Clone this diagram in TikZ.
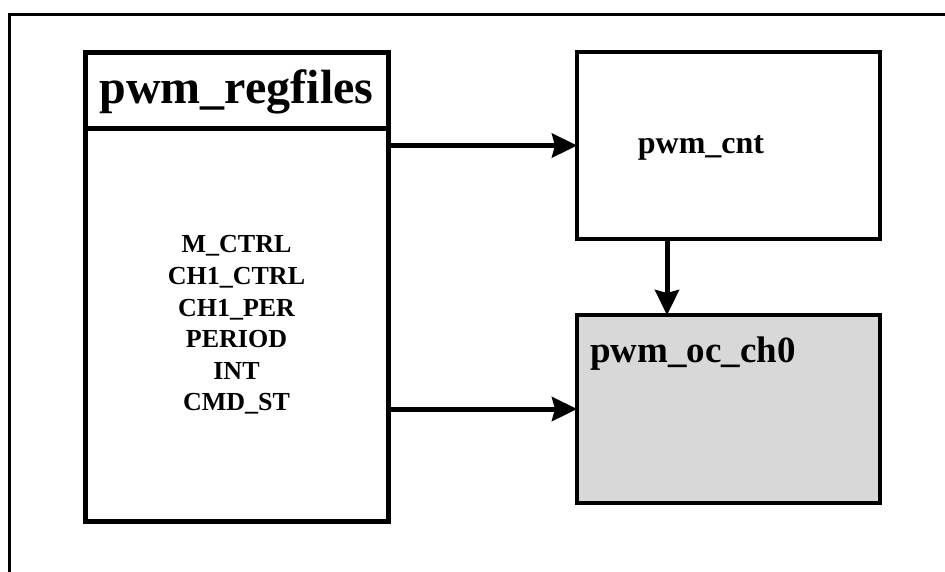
\documentclass[tikz,border=0pt]{standalone}
\usepackage{fontspec}
\setmainfont{Liberation Serif}
\usetikzlibrary{arrows.meta}

\begin{document}
\begin{tikzpicture}[x=1pt,y=-1pt]
\tikzstyle{blk} = [draw,line width=5pt,inner sep=0pt,outer sep=0pt]
\tikzstyle{sub} = [draw,line width=4pt,inner sep=0pt,outer sep=0pt]
\tikzstyle{arr} = [line width=5pt,-{Stealth[length=25pt,width=24pt,inset=3pt]}]
\tikzstyle{lbl} = [inner sep=0pt,font=\bfseries]
\useasboundingbox (0,0) rectangle (945,571);
% outer frame (only top and left show)
\draw[line width=3pt] (9,575) -- (9,14) -- (950,14);
% register file
\node[blk,minimum width=303pt,minimum height=76pt] (reghead) at (236.5,90) {};
\node[blk,minimum width=303pt,minimum height=393pt] (regbody) at (236.5,324.5) {};
\node[lbl,font=\bfseries\fontsize{48}{52}\selectfont] (regname) at (236.5,92) {pwm\_regfiles};
\node[lbl,align=center,font=\bfseries\fontsize{26}{31.6}\selectfont] (reglist) at (236.5,325)
  {M\_CTRL\\CH1\_CTRL\\CH1\_PER\\PERIOD\\INT\\CMD\_ST};
% counter and output compare
\node[sub,minimum width=303pt,minimum height=187pt] (cnt) at (728.5,145.5) {};
\node[sub,fill={rgb,255:red,216;green,216;blue,216},minimum width=303pt,minimum height=188pt] (oc) at (728.5,409) {};
\node[lbl,font=\bfseries\fontsize{32}{36}\selectfont] (cntname) at (701,148) {pwm\_cnt};
\node[lbl,anchor=base west,font=\bfseries\fontsize{37}{40}\selectfont] (ocname) at (590,362) {pwm\_oc\_ch0};
% connections
\draw[arr] (cnt.west -| regbody.east) -- (cnt.west);
\draw[arr] (oc.west -| regbody.east) -- (oc.west);
\coordinate (dn) at ([xshift=-61.5pt]cnt.south);
\draw[arr] (dn) -- (dn |- oc.north);
\end{tikzpicture}
\end{document}
